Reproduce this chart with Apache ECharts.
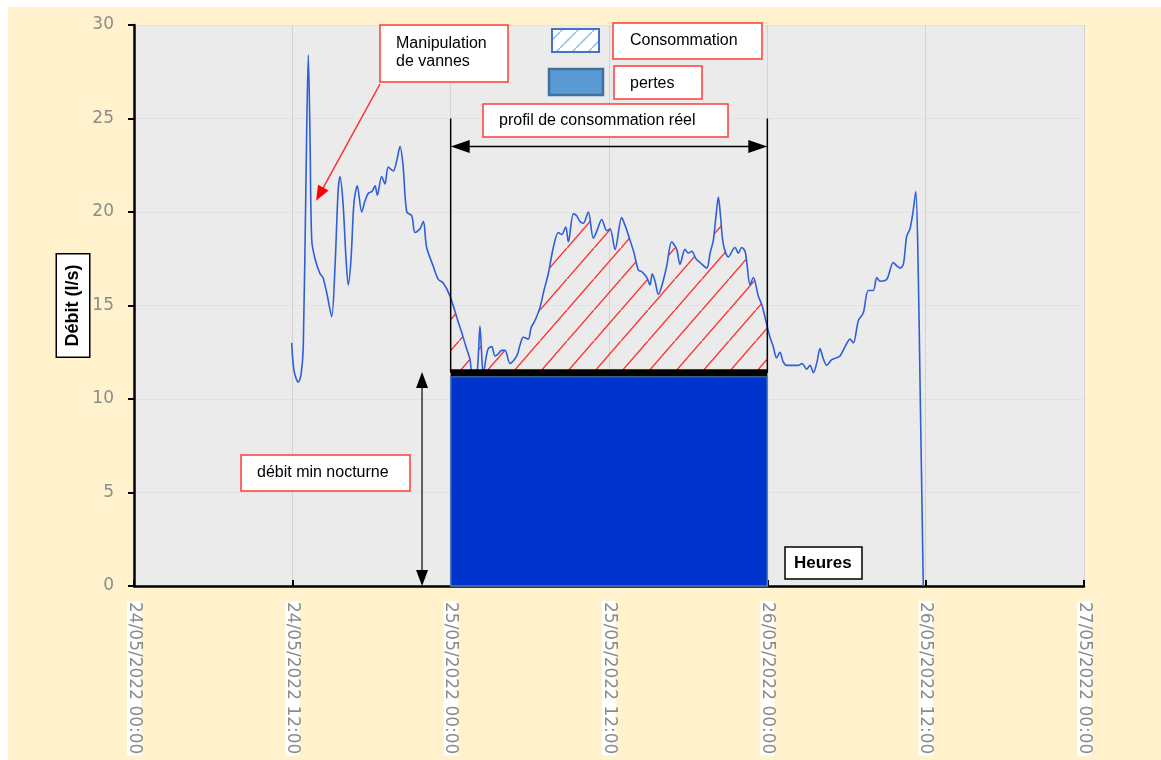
<!DOCTYPE html>
<html><head><meta charset="utf-8">
<script src="https://cdn.jsdelivr.net/npm/echarts@6/dist/echarts.min.js"></script>
<style>
html,body{margin:0;padding:0;background:#fff;overflow:hidden;}
#bg{position:absolute;left:8px;top:7px;width:1153px;height:753px;background:#FFF2CC;}
#chart{position:absolute;left:0;top:0;width:1161px;height:760px;}
</style></head>
<body><div id="bg"></div><div id="chart"></div>
<script>
// hours since 24/05/2022 00:00
const hours = [11.95,12.13,12.45,12.66,12.83,13.04,13.21,13.34,13.47,13.72,
14.10,14.32,14.63,14.98,15.23,15.46,15.61,15.84,16.07,16.24,
16.45,16.67,16.92,17.26,17.51,17.76,18.04,18.27,18.44,18.77,
19.02,19.27,19.65,19.93,20.16,20.39,20.67,21.05,21.30,21.68,
21.93,22.18,22.68,23.06,23.44,23.95,24.58,24.86,25.16,25.47,
25.62,25.92,26.07,26.22,26.38,26.47,26.68,26.85,27.11,27.36,
27.59,27.87,28.12,28.50,29.01,29.26,29.51,29.88,30.09,30.39,
30.77,31.07,31.40,31.78,32.16,32.42,32.72,32.92,33.30,33.55,
33.80,34.05,34.43,34.81,35.09,35.45,35.83,36.08,36.46,36.96,
37.21,37.59,37.90,38.22,38.50,38.86,39.11,39.28,39.49,39.74,
40.02,40.37,40.75,41.13,41.38,41.76,42.01,42.27,42.59,42.90,
43.41,43.66,43.91,44.11,44.29,44.45,44.66,45.04,45.55,45.80,
46.06,46.31,46.46,46.69,46.94,47.32,47.60,47.95,48.20,48.45,
48.70,48.96,49.19,49.47,49.87,50.35,50.63,50.98,51.24,51.49,
51.77,51.99,52.22,52.50,52.88,53.21,53.51,53.89,54.27,54.52,
54.90,55.27,55.65,56.03,56.29,56.54,57.05,57.55,57.83,58.06,
58.31,58.56,58.81,59.04,59.25,59.42,59.57,59.82];
// débit (l/s)
const flow = [13.0,11.5,10.9,11.3,12.8,22,28.4,24,18.5,17.5,
16.7,16.5,15.6,14.4,17,21,21.9,20.5,17.5,16.1,
17.5,20.5,21.4,20.0,20.6,21.0,21.1,21.4,20.9,21.9,
21.5,22.4,22.2,22.8,23.5,22.5,20.0,19.8,18.9,19.1,
19.5,18.1,17.1,16.4,16.2,15.5,14.1,13.5,12.8,12.1,
11.3,11.2,12,13.9,12,11.3,12.2,12.7,12.8,12.3,
12.4,12.6,12.6,11.9,12.3,12.9,13.3,13.2,13.8,14.2,
14.9,15.8,16.7,18.1,18.9,18.8,19.2,18.4,19.9,19.8,
19.5,19.4,20.0,18.6,19.0,19.6,19.0,19.1,18.0,19.7,
19.3,18.5,17.8,16.9,16.8,16.5,16.1,16.7,16.3,15.6,
16.1,17.1,18.4,18.0,17.2,18.0,17.8,17.9,17.5,17.3,
17.0,17.8,18.5,19.8,20.8,19.8,18.3,17.6,18.1,17.8,
18.1,17.9,17.2,16.1,16.5,15.5,15.0,14.0,13.3,12.8,
12.2,12.5,12.0,11.8,11.8,11.8,11.9,11.6,11.8,11.4,
12.0,12.7,12.2,11.8,12.1,12.2,12.3,12.8,13.2,13.0,
14.2,14.6,15.8,15.8,16.5,16.3,16.4,17.3,17.1,17.0,
17.2,18.7,19.1,20.0,21.1,17.5,11.0,0];
const xTickLabels = ['24/05/2022 00:00','24/05/2022 12:00','25/05/2022 00:00','25/05/2022 12:00','26/05/2022 00:00','26/05/2022 12:00','27/05/2022 00:00'];
const profileWindow = [24, 48];      // 25/05 00:00 -> 26/05 00:00
const minNightFlow = 11.4;           // débit min nocturne
const lossLevel = 11.2;              // pertes
const profileArrowLevel = 23.5;
const profileFrameTop = 25.0;
const nightArrowHour = 21.83;
const valveArrowTip = [13.8, 20.6];

function interp(t){
  for(let i=0;i<hours.length-1;i++){
    if(hours[i]<=t && hours[i+1]>=t){
      const f=(t-hours[i])/(hours[i+1]-hours[i]);
      return flow[i]+f*(flow[i+1]-flow[i]);
    }
  }
  return null;
}
const lineData = hours.map((h,i)=>[h,flow[i]]);
const hatchData = [[profileWindow[0], interp(profileWindow[0])]];
hours.forEach((h,i)=>{ if(h>profileWindow[0] && h<profileWindow[1]) hatchData.push([h,flow[i]]); });
hatchData.push([profileWindow[1], interp(profileWindow[1])]);

function makeHatch(color,w,h,lw,bg){
  const c=document.createElement('canvas'); c.width=w; c.height=h;
  const g=c.getContext('2d');
  if(bg){g.fillStyle=bg; g.fillRect(0,0,w,h);}
  g.strokeStyle=color; g.lineWidth=lw;
  g.beginPath(); g.moveTo(-w,2*h); g.lineTo(2*w,-h); g.stroke();
  return c;
}
const redHatch = makeHatch('#FF3030',27,31,1.4);
const blueHatch = makeHatch('#9DC3E6',16,16,1.6,'#ffffff');

const chart = echarts.init(document.getElementById('chart'), null, {renderer:'canvas'});
const axisFont = 'DejaVu Sans';
chart.setOption({
  backgroundColor:'transparent',
  animation:false,
  grid:{left:134,right:77,top:25,bottom:174,show:true,backgroundColor:'#EBEBEB',borderWidth:0},
  xAxis:{type:'value',min:0,max:72,interval:12,
    axisLine:{show:true,onZero:false,lineStyle:{color:'#000',width:2.5}},
    axisTick:{show:true,inside:true,length:6,lineStyle:{color:'#000',width:2}},
    splitLine:{show:true,lineStyle:{color:'#D3D3D3',width:1}},
    axisLabel:{rotate:-90,margin:15,color:'#8C8C8C',fontFamily:axisFont,fontSize:17,
      backgroundColor:'#fff',lineHeight:14,padding:[0,1],showMinLabel:true,showMaxLabel:true,
      formatter:v=>xTickLabels[Math.round(v/12)]}},
  yAxis:{type:'value',min:0,max:30,interval:5,
    axisLine:{show:true,lineStyle:{color:'#000',width:2.5}},
    axisTick:{show:true,length:6,lineStyle:{color:'#000',width:2}},
    splitLine:{show:true,lineStyle:{color:'#E2E2E2',width:1}},
    axisLabel:{color:'#8C8C8C',fontFamily:axisFont,fontSize:17,margin:20},
    name:'Débit (l/s)',nameLocation:'middle',nameRotate:90,nameGap:45,nameMoveOverlap:false,
    nameTextStyle:{fontFamily:'Liberation Sans',fontWeight:'bold',fontSize:18,color:'#000',
      backgroundColor:'#fff',borderColor:'#000',borderWidth:1.5,padding:[6,10],lineHeight:20}},
  series:[
    {type:'line',name:'Consommation',data:hatchData,z:1,silent:true,showSymbol:false,smooth:0.3,
      lineStyle:{width:0,opacity:0},areaStyle:{color:{image:redHatch,repeat:'repeat'},opacity:1}},
    {type:'line',name:'Débit',data:lineData,z:2,silent:true,showSymbol:false,smooth:0.3,
      lineStyle:{color:'#2F5FD8',width:1.6}},
    {type:'custom',name:'pertes',z:3,silent:true,data:[[profileWindow[0],profileWindow[1],lossLevel]],
      encode:{x:[0,1],y:2},
      renderItem:(params,api)=>{
        const p0=api.coord([api.value(0),0]);
        const p1=api.coord([api.value(1),api.value(2)]);
        return {type:'rect',shape:{x:p0[0],y:p1[1],width:p1[0]-p0[0],height:p0[1]-p1[1]},
          style:{fill:'#0033CC',stroke:'#4F7FB8',lineWidth:1.5}};
      }},
    {type:'line',name:'min',data:[[profileWindow[0],minNightFlow],[profileWindow[1],minNightFlow]],
      z:4,silent:true,showSymbol:false,lineStyle:{color:'#000',width:7}}
  ]
});

function px(p){ return chart.convertToPixel({gridIndex:0}, p); }
function head(tip,from,len,w,color){
  const dx=tip[0]-from[0], dy=tip[1]-from[1], d=Math.hypot(dx,dy), ux=dx/d, uy=dy/d;
  const bx=tip[0]-ux*len, by=tip[1]-uy*len;
  return {type:'polygon',z:100,silent:true,shape:{points:[tip,[bx-uy*w/2,by+ux*w/2],[bx+uy*w/2,by-ux*w/2]]},style:{fill:color}};
}
function seg(a,b,color,lw){ return {type:'line',z:100,silent:true,shape:{x1:a[0],y1:a[1],x2:b[0],y2:b[1]},style:{stroke:color,lineWidth:lw}}; }
function box(x,y,w,h,stroke,lw){ return {type:'rect',z:100,silent:true,shape:{x:x,y:y,width:w,height:h},style:{fill:'#fff',stroke:stroke,lineWidth:lw}}; }
function txt(x,y,s,font){ return {type:'text',z:101,silent:true,x:x,y:y,style:{text:s,font:font||'16px "Liberation Sans"',fill:'#000',align:'left',verticalAlign:'middle'}}; }

const g=[];
const fl0=px([profileWindow[0],minNightFlow]), ft0=px([profileWindow[0],profileFrameTop]);
const fl1=px([profileWindow[1],minNightFlow]), ft1=px([profileWindow[1],profileFrameTop]);
g.push(seg(fl0,ft0,'#000',1.5), seg(fl1,ft1,'#000',1.5));
const a0=px([profileWindow[0],profileArrowLevel]), a1=px([profileWindow[1],profileArrowLevel]);
g.push(seg([a0[0]+15,a0[1]],[a1[0]-15,a1[1]],'#000',1.5), head(a0,a1,19,13,'#000'), head(a1,a0,19,13,'#000'));
const n0=px([nightArrowHour,0]), n1=px([nightArrowHour,minNightFlow+0.05]);
g.push(seg([n0[0],n0[1]-14],[n1[0],n1[1]+14],'#333',1.5), head(n0,n1,16,12,'#000'), head(n1,n0,16,12,'#000'));
const vt=px(valveArrowTip), vs=[380,84];
g.push(seg(vs,[vt[0]+(vs[0]-vt[0])*0.1,vt[1]+(vs[1]-vt[1])*0.1],'#FF3030',1.5), head(vt,vs,15,12,'#FF0000'));
g.push(box(380,25,128,57,'#FF3B3B',1.5), txt(396,44,'Manipulation'), txt(396,62,'de vannes'));
g.push({type:'rect',z:100,silent:true,shape:{x:552,y:29,width:47,height:23},style:{fill:{image:blueHatch,repeat:'repeat'},stroke:'#4472C4',lineWidth:2}});
g.push(box(613,23,149,36,'#FF3B3B',1.5), txt(630,41,'Consommation'));
g.push({type:'rect',z:100,silent:true,shape:{x:549,y:69,width:54,height:26},style:{fill:'#5B9BD5',stroke:'#41719C',lineWidth:2.5}});
g.push(box(614,66,88,33,'#FF3B3B',1.5), txt(630,84,'pertes'));
g.push(box(483,104,245,33,'#FF3B3B',1.5), txt(499,121,'profil de consommation réel'));
g.push(box(241,455,169,36,'#FF3B3B',1.5), txt(257,473,'débit min nocturne'));
g.push(box(785,547,77,32,'#000',1.5), txt(794,563,'Heures','bold 17px "Liberation Sans"'));
chart.setOption({graphic:{elements:g}});
</script>
</body></html>
